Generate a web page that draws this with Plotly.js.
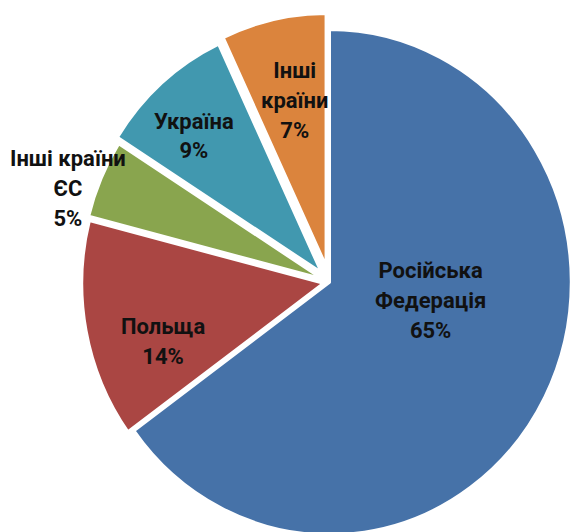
<!DOCTYPE html>
<html><head><meta charset="utf-8">
<script src="https://cdn.plot.ly/plotly-3.0.1.min.js"></script>
<style>
html,body{margin:0;padding:0;overflow:hidden;background:#fff;width:571px;height:532px}
#chart{width:589px;height:529px;transform:scaleY(1.045);transform-origin:0 0}
</style>
</head><body><div id="chart"></div>
<script>
// Data
const categories = ['Російська Федерація', 'Польща', 'Інші країни ЄС', 'Україна', 'Інші країни'];
const labelText = ['Російська<br>Федерація', 'Польща', 'Інші країни<br>ЄС', 'Україна', 'Інші<br>країни'];
const shares = [65, 14, 5, 9, 7];

// Layout geometry (the reference picture is slightly taller than wide)
const SY = 1.045;
const W = 589, H = 529, M = {l: 71.5, r: 1.5, t: 12, b: 1};
const plotW = W - M.l - M.r, plotH = H - M.t - M.b;
function px(x, y) { return {x: (x - M.l) / plotW, y: 1 - (y / SY - M.t) / plotH}; }

const total = shares.reduce((a, b) => a + b, 0);
const labelPos = [[431, 300], [163, 342], [67, 188], [194, 136], [294, 100]];

const annotations = categories.map((c, i) => {
  const p = px(labelPos[i][0], labelPos[i][1]);
  return {
    x: p.x, y: p.y, xref: 'paper', yref: 'paper', xanchor: 'center', yanchor: 'middle',
    text: '<b>' + labelText[i] + '<br>' + Math.round(100 * shares[i] / total) + '%</b>',
    showarrow: false, align: 'center',
    font: {family: 'Roboto, sans-serif', size: 22, color: '#111'}
  };
});

const trace = {
  type: 'pie',
  labels: categories,
  values: shares,
  sort: false,
  direction: 'clockwise',
  rotation: 0,
  pull: [0, 0.025, 0.03, 0.05, 0.065],
  textinfo: 'none',
  hoverinfo: 'label+percent',
  marker: {
    colors: ['#4672A8', '#AA4643', '#89A54E', '#4198AF', '#DB843D'],
    line: {color: '#ffffff', width: 3}
  },
  showlegend: false
};

Plotly.newPlot('chart', [trace], {
  width: W, height: H,
  margin: M,
  paper_bgcolor: '#ffffff',
  showlegend: false,
  annotations: annotations
}, {displayModeBar: false, staticPlot: true});
</script>
</body></html>
